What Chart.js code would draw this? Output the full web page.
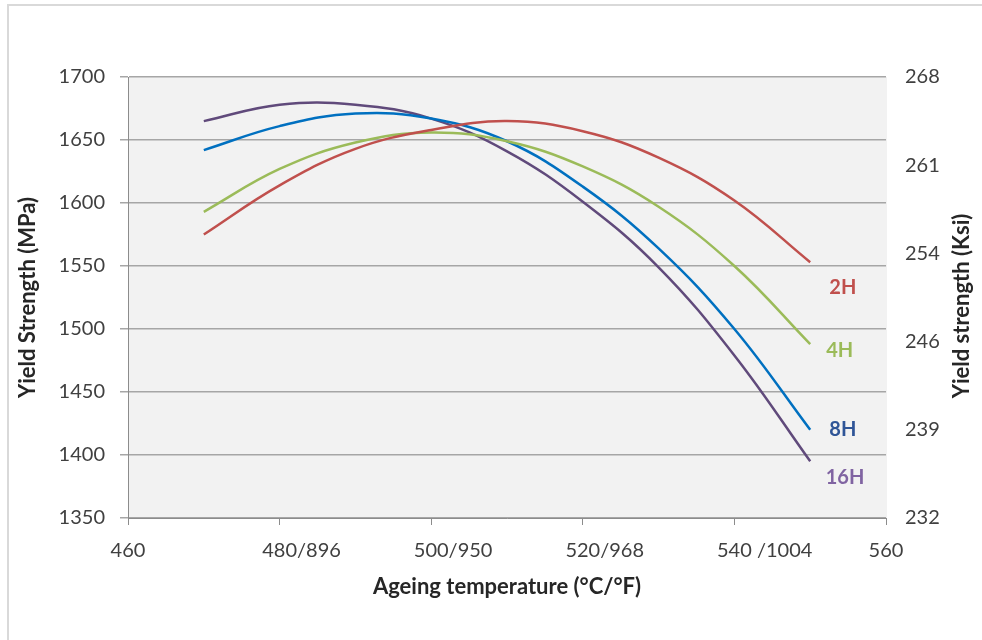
<!DOCTYPE html>
<html>
<head>
<meta charset="utf-8">
<script src="https://cdn.jsdelivr.net/npm/chart.js@4.4.0/dist/chart.umd.min.js"></script>
<style>
    html, body { margin: 0; padding: 0; background: #fff; overflow: hidden; }
    .frame {
        position: absolute; left: 7px; top: 4px; width: 1100px; height: 800px;
        border-top: 2px solid #d9d9d9; border-left: 2px solid #d9d9d9;
    }
    .wrap { position: absolute; left: 0; top: 0; width: 982px; height: 640px; }
</style>
</head>
<body>
<div class="frame"></div>
<div class="wrap"><canvas id="myChart" width="982" height="640"></canvas></div>
<script>
// ageing temperature (°C)
const temps = [470, 480, 490, 500, 510, 520, 530, 540, 550];

// yield strength (MPa) per ageing time
const ys2H = [1575, 1614, 1643, 1658, 1665, 1657, 1636, 1602, 1553];
const ys4H = [1593, 1627, 1648, 1656, 1649, 1629, 1597, 1550, 1488];
const ys8H = [1642, 1661, 1671, 1667, 1649, 1613, 1564, 1500, 1420];
const ys16H = [1665, 1678, 1678, 1667, 1641, 1601, 1549, 1479, 1395];

const seriesNames = ["2H", "4H", "8H", "16H"];
const lineColors = ["#c0504d", "#9bbb59", "#0070c0", "#604a7b"];
const labelColors = ["#c0504d", "#9bbb59", "#2f5597", "#8064a2"];

// x ticks (°C) and their printed labels (°C/°F)
const xTickValues = [460, 480, 500, 520, 540, 560];
const xTickLabels = ["460", "480/896", "500/950", "520/968", "540 /1004", "560"];

// right axis (Ksi) range, 5 intervals
const ksiMin = 232;
const ksiMax = 268;

const FONT = "Lato, 'Open Sans', sans-serif";
const TXT = "#404040";
const TITLE = "#262626";

const seriesData = [ys2H, ys4H, ys8H, ys16H];

const plotBg = {
    id: "plotBg",
    beforeDraw(chart) {
        const { ctx, chartArea: a } = chart;
        ctx.save();
        ctx.fillStyle = "#f2f2f2";
        ctx.fillRect(a.left, a.top, a.right - a.left + 1, a.bottom - a.top);
        ctx.restore();
    },
};

// x labels start where the centred °C number would start
const xLabels = {
    id: "xLabels",
    afterDraw(chart) {
        const { ctx } = chart;
        const xs = chart.scales.x;
        ctx.save();
        ctx.fillStyle = TXT;
        ctx.font = "20px " + FONT;
        ctx.textAlign = "left";
        ctx.textBaseline = "middle";
        xTickValues.forEach((v, i) => {
            const base = ctx.measureText(String(v)).width;
            ctx.fillText(xTickLabels[i], xs.getPixelForValue(v) - base / 2, 551);
        });
        ctx.restore();
    },
};

// axis titles, drawn by hand so the right one reads bottom-to-top
const axisTitles = {
    id: "axisTitles",
    afterDraw(chart) {
        const { ctx, chartArea: a } = chart;
        const rotated = (text, x, y) => {
            ctx.save();
            ctx.translate(x, y);
            ctx.rotate(-Math.PI / 2);
            ctx.fillText(text, 0, 0);
            ctx.restore();
        };
        ctx.save();
        ctx.fillStyle = TITLE;
        ctx.font = "bold 22px " + FONT;
        ctx.textAlign = "center";
        ctx.textBaseline = "middle";
        ctx.fillText("Ageing temperature (°C/°F)", (a.left + a.right) / 2, 587);
        rotated("Yield Strength (MPa)", 28, (a.top + a.bottom) / 2);
        rotated("Yield strength (Ksi)", 962, 306);
        ctx.restore();
    },
};

// series labels placed beside the line ends
const endLabels = {
    id: "endLabels",
    afterDatasetsDraw(chart) {
        const { ctx } = chart;
        const x = chart.scales.x;
        const y = chart.scales.y;
        const pos = [
            [554.3, 1533],
            [553.9, 1483],
            [554.3, 1420],
            [554.6, 1382],
        ];
        ctx.save();
        ctx.font = "bold 20px " + FONT;
        ctx.textAlign = "center";
        ctx.textBaseline = "middle";
        seriesNames.forEach((name, i) => {
            ctx.fillStyle = labelColors[i];
            ctx.fillText(name, x.getPixelForValue(pos[i][0]), y.getPixelForValue(pos[i][1]));
        });
        ctx.restore();
    },
};

new Chart(document.getElementById("myChart"), {
    type: "line",
    data: {
        datasets: seriesNames.map((name, i) => ({
            label: name,
            data: temps.map((t, j) => ({ x: t, y: seriesData[i][j] })),
            borderColor: lineColors[i],
            borderWidth: 2.5,
            pointRadius: 0,
            tension: 0.4,
            fill: false,
        })),
    },
    options: {
        responsive: false,
        animation: false,
        layout: {
            padding: { left: 10, top: 77, right: 0, bottom: 0 },
        },
        plugins: {
            legend: { display: false },
            tooltip: { enabled: false },
        },
        scales: {
            x: {
                type: "linear",
                min: 460,
                max: 560,
                ticks: {
                    stepSize: 20,
                    maxRotation: 0,
                    color: "rgba(0,0,0,0)",
                    font: { family: FONT, size: 20 },
                },
                grid: {
                    drawOnChartArea: false,
                    drawTicks: true,
                    tickLength: 7,
                    color: "#8c8c8c",
                    lineWidth: 1,
                },
                border: { color: "#8c8c8c", width: 1 },
                afterFit(scale) {
                    scale.height = 122;
                },
            },
            y: {
                position: "left",
                min: 1350,
                max: 1700,
                ticks: {
                    stepSize: 50,
                    color: TXT,
                    font: { family: FONT, size: 20 },
                    padding: 15,
                    callback: (v) => String(v),
                },
                grid: {
                    color: "#a6a6a6",
                    lineWidth: 1.5,
                    tickLength: 8,
                },
                border: { color: "#8c8c8c", width: 1 },
                afterFit(scale) {
                    scale.width = 118;
                },
            },
            y2: {
                position: "right",
                min: ksiMin,
                max: ksiMax,
                ticks: {
                    stepSize: (ksiMax - ksiMin) / 5,
                    color: TXT,
                    font: { family: FONT, size: 20 },
                    padding: 19,
                    callback: (v) => String(Math.round(v)),
                },
                grid: { display: false, drawTicks: false },
                border: { display: false },
                afterFit(scale) {
                    scale.width = 96;
                },
            },
        },
    },
    plugins: [plotBg, endLabels, xLabels, axisTitles],
});
</script>
</body>
</html>
